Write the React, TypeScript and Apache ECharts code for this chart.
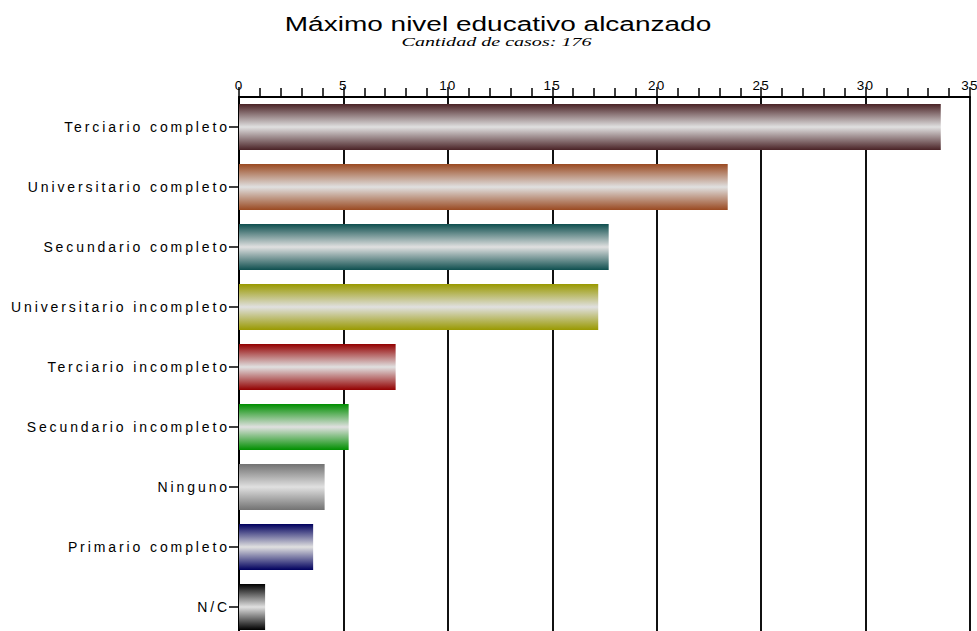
import React, { useEffect, useRef } from "react";
import * as echarts from "echarts";

const categories = [
  "Terciario completo",
  "Universitario completo",
  "Secundario completo",
  "Universitario incompleto",
  "Terciario incompleto",
  "Secundario incompleto",
  "Ninguno",
  "Primario completo",
  "N/C",
];
const values = [33.6, 23.4, 17.7, 17.2, 7.5, 5.25, 4.1, 3.55, 1.25];
const barColors = [
  "#4a2326",
  "#9a4a22",
  "#0f4f4f",
  "#999900",
  "#930000",
  "#008f00",
  "#727272",
  "#00005e",
  "#000000",
];
const axisMin = 0;
const axisMax = 35;
const axisStep = 5;
const titleText = "Máximo nivel educativo alcanzado";
const subtitleText = "Cantidad de casos: 176";

export default function App() {
  const ref = useRef<HTMLDivElement>(null);

  useEffect(() => {
    if (!ref.current) return;
    const chart = echarts.init(ref.current, undefined, { renderer: "svg" });
    const data = values.map((v, i) => ({
      value: v,
      itemStyle: {
        color: new echarts.graphic.LinearGradient(0, 0, 0, 1, [
          { offset: 0, color: barColors[i] },
          { offset: 0.5, color: "#e0e0e0" },
          { offset: 1, color: barColors[i] },
        ]),
      },
    }));
    chart.setOption({
      animation: false,
      backgroundColor: "#ffffff",
      textStyle: { fontFamily: "Liberation Sans" },
      grid: { left: 239, top: 97, width: 731, height: 540, outerBoundsMode: "none", containLabel: false },
      graphic: [
        {
          type: "text",
          x: 498,
          y: 24.5,
          scaleX: 1.4,
          style: {
            text: titleText,
            font: '20px "Liberation Sans"',
            fill: "#000",
            textAlign: "center",
            textVerticalAlign: "middle",
          },
        },
        {
          type: "text",
          x: 496.5,
          y: 41.5,
          scaleX: 1.58,
          style: {
            text: subtitleText,
            font: 'italic 12.7px "Liberation Serif"',
            fill: "#000",
            textAlign: "center",
            textVerticalAlign: "middle",
          },
        },
      ],
      xAxis: {
        type: "value",
        position: "top",
        min: axisMin,
        max: axisMax,
        interval: axisStep,
        axisLine: { show: true, lineStyle: { color: "#000", width: 2 } },
        axisTick: { show: true, length: 10, lineStyle: { color: "#000", width: 1.5 } },
        minorTick: { show: true, splitNumber: 5, length: 9, lineStyle: { color: "#000", width: 1.5 } },
        splitLine: { show: true, lineStyle: { color: "#111", width: 2 } },
        axisLabel: { color: "#000", fontSize: 13.5, margin: 5, fontFamily: "Liberation Sans" },
      },
      yAxis: {
        type: "category",
        inverse: true,
        data: categories,
        axisLine: { show: true, lineStyle: { color: "#000", width: 2 } },
        axisTick: { show: true, alignWithLabel: true, length: 10, lineStyle: { color: "#000", width: 1.5 } },
        axisLabel: { color: "#000", fontSize: 14, margin: 9, interval: 0, fontFamily: "Liberation Sans" },
        splitLine: { show: false },
      },
      series: [
        {
          type: "bar",
          barWidth: 46,
          data,
        },
      ],
    });
    return () => chart.dispose();
  }, []);

  return (
    <>
      <style>{`
        .chartbox svg text[style*="14px"] { letter-spacing: 2.9px; }
        .chartbox svg text[style*="13.5px"] { letter-spacing: 1.2px; }
      `}</style>
      <div
        ref={ref}
        className="chartbox"
        style={{ position: "fixed", left: 0, top: 0, width: 977, height: 640, background: "#fff" }}
      />
    </>
  );
}
